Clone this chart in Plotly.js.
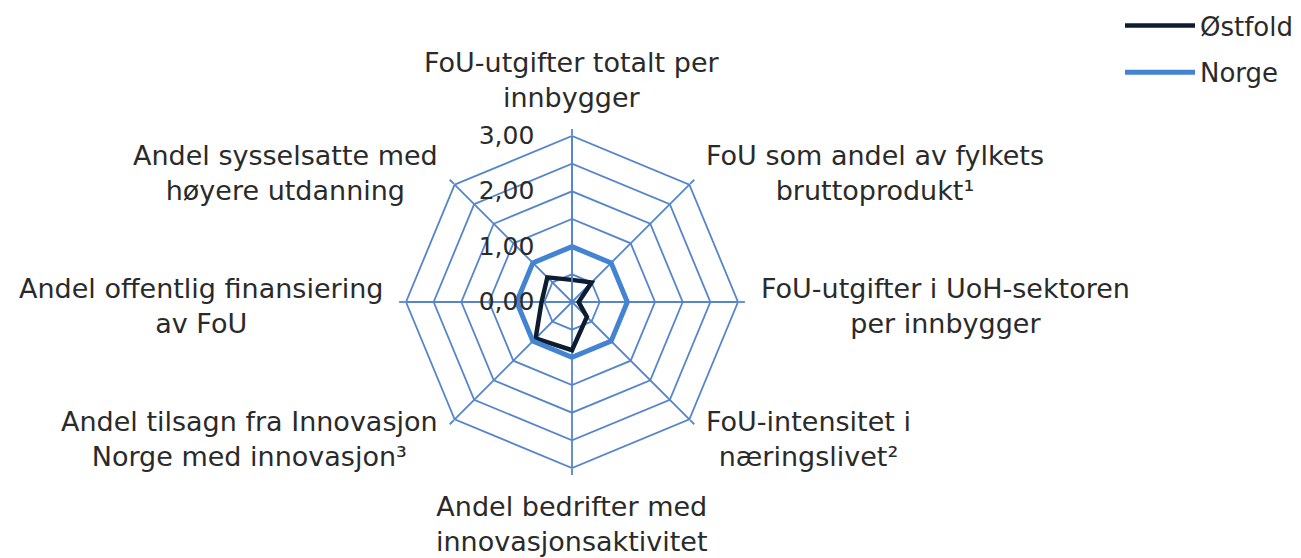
<!DOCTYPE html>
<html>
<head>
<meta charset="utf-8">
<script src="https://cdn.plot.ly/plotly-3.0.1.min.js"></script>
<style>html,body{margin:0;padding:0;background:#fff;}#chart{width:1301px;height:558px;}</style>
</head>
<body>
<div id="chart"></div>
<script>
const categories = [
  "FoU-utgifter totalt per<br>innbygger",
  "FoU som andel av fylkets<br>bruttoprodukt¹",
  "FoU-utgifter i UoH-sektoren<br>per innbygger",
  "FoU-intensitet i<br>næringslivet²",
  "Andel bedrifter med<br>innovasjonsaktivitet",
  "Andel tilsagn fra Innovasjon<br>Norge med innovasjon³",
  "Andel offentlig finansiering<br>av FoU",
  "Andel sysselsatte med<br>høyere utdanning"
];
const ostfold = [0.40, 0.50, 0.12, 0.38, 0.87, 0.93, 0.55, 0.63];
const norge = [1, 1, 1, 1, 1, 1, 1, 1];
const radialTickVals = [0, 0.5, 1, 1.5, 2, 2.5, 3];
const radialTickText = ["0,00", "", "1,00", "", "2,00", "", "3,00"];

const FONT = "DejaVu Sans";
const TEXT = "#2a2a2a";
const LABEL_SIZE = 27;

const close = a => a.concat([a[0]]);
const theta = close(categories);

const traces = [
  {type: "scatterpolar", r: close(ostfold), theta: theta, mode: "lines", name: "Østfold",
   line: {color: "#0e1c30", width: 4.5}, legendgroup: "a"},
  {type: "scatterpolar", r: close(norge), theta: theta, mode: "lines", name: "Norge",
   line: {color: "#4283d2", width: 5}, legendgroup: "b"}
];

const GRID = "#5585cc";
const cx = 572, cy = 302, R = 166, W = 1301, H = 558;

// category labels: centred multi-line text placed just outside each spoke end
const LABEL_GAP = 22;
const annotations = categories.map((txt, i) => {
  const a = (90 - 360 / categories.length * i) * Math.PI / 180;
  const c = Math.cos(a), s = Math.sin(a);
  const px = cx + (R + LABEL_GAP) * c, py = cy - (R + LABEL_GAP) * s;
  const vertical = Math.abs(s) > 0.99;
  return {
    xref: "paper", yref: "paper", x: px / W, y: 1 - py / H,
    xanchor: Math.abs(c) < 0.1 ? "center" : (c > 0 ? "left" : "right"),
    yanchor: vertical ? (s > 0 ? "bottom" : "top") : "middle",
    yshift: vertical ? 0 : -4,
    text: txt, showarrow: false, align: "center",
    font: {family: FONT, size: LABEL_SIZE, color: TEXT}, borderpad: 0
  };
});

const layout = {
  width: W, height: H,
  margin: {l: 0, r: 0, t: 0, b: 0},
  paper_bgcolor: "#ffffff",
  font: {family: FONT + ", Verdana, sans-serif", color: TEXT, size: LABEL_SIZE},
  showlegend: true,
  legend: {x: 1120 / W, y: 1 - 2 / H, xanchor: "left", yanchor: "top",
           itemwidth: 70,
           font: {size: 26, color: TEXT}, traceorder: "grouped", tracegroupgap: 10,
           bgcolor: "rgba(0,0,0,0)"},
  annotations: annotations,
  polar: {
    domain: {x: [(cx - R) / W, (cx + R) / W], y: [1 - (cy + R) / H, 1 - (cy - R) / H]},
    gridshape: "linear",
    bgcolor: "rgba(0,0,0,0)",
    angularaxis: {direction: "clockwise", rotation: 90,
                  showline: true, linecolor: GRID, linewidth: 1.8,
                  gridcolor: GRID, gridwidth: 1.8,
                  ticks: "outside", ticklen: 6, tickcolor: GRID, tickwidth: 1.8,
                  showticklabels: false},
    radialaxis: {range: [0, 3], angle: 90, side: "counterclockwise", tickangle: 90,
                 tickvals: radialTickVals, ticktext: radialTickText,
                 showline: true, linecolor: GRID, linewidth: 1.8,
                 gridcolor: GRID, gridwidth: 1.8,
                 ticks: "outside", ticklen: 28, tickcolor: "rgba(0,0,0,0)",
                 tickfont: {size: 25, color: TEXT}}
  }
};

Plotly.newPlot("chart", traces, layout, {displayModeBar: false, staticPlot: true});
</script>
</body>
</html>
